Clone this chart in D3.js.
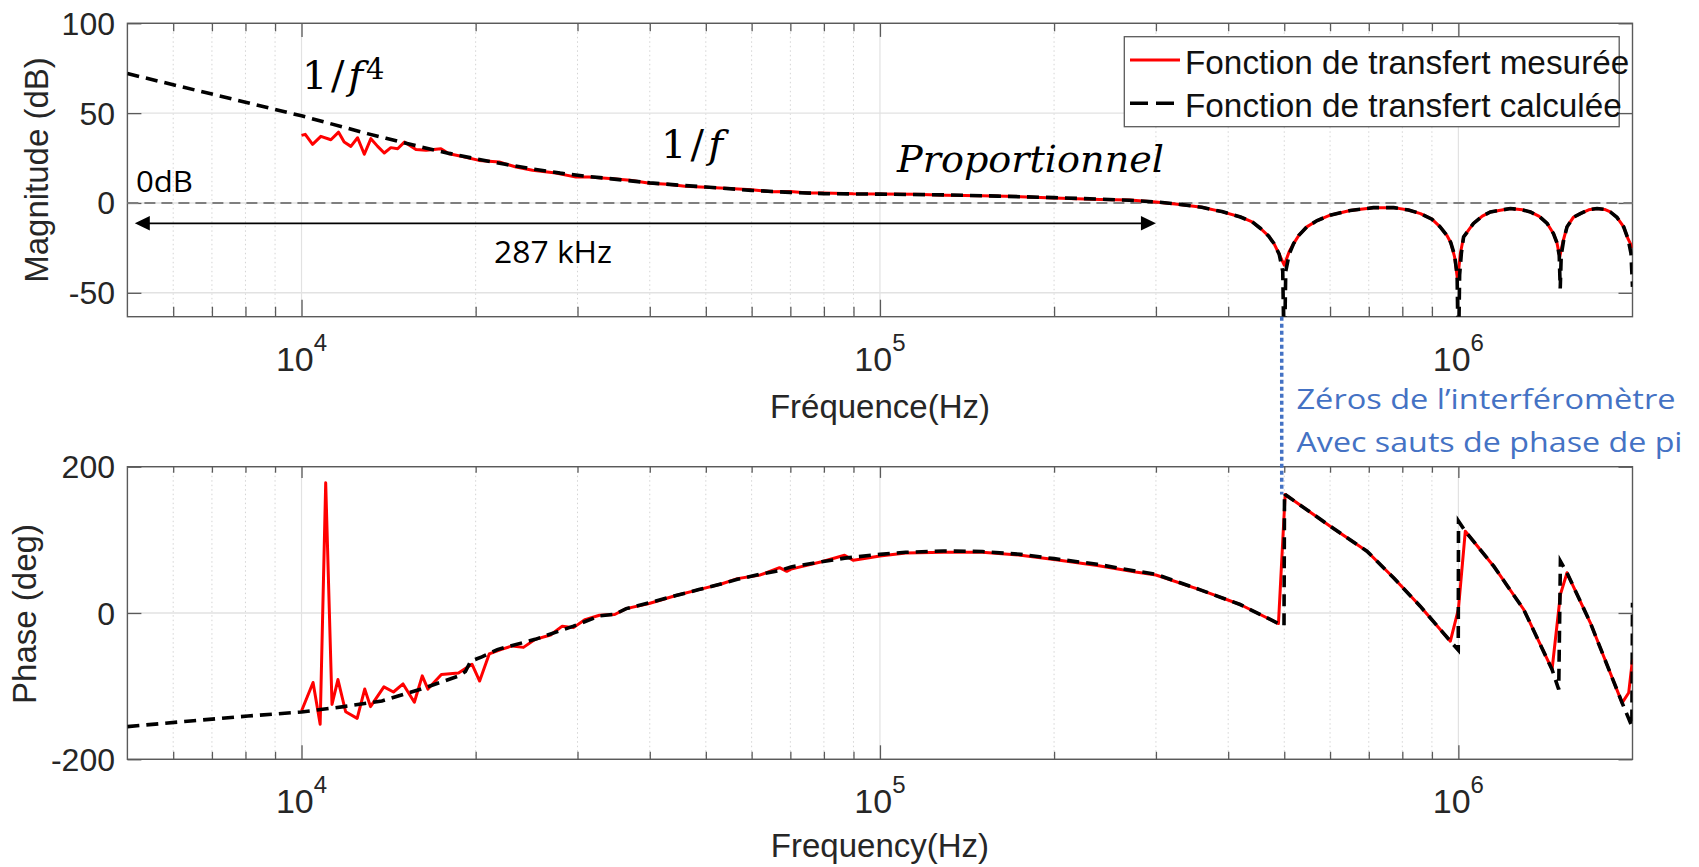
<!DOCTYPE html>
<html>
<head>
<meta charset="utf-8">
<script src="https://cdn.jsdelivr.net/npm/d3@7/dist/d3.min.js"></script>
<style>
  body { margin: 0; background: #fff; }
  svg { display: block; }
</style>
</head>
<body>
<svg id="chart" width="1699" height="867"></svg>
<script>
// ---------- Bode data (frequency in Hz) ----------
// calculated transfer function, magnitude (dB)
const magFreqCalc = [5000, 6000, 7000, 8000, 9000, 10000, 11000, 12000, 13000, 14000, 15000, 16000, 18000, 20000, 22500, 25000, 28000, 31000, 34000, 40000, 45000, 50000, 60000, 70000, 80000, 100000, 130000, 160000, 200000, 240000, 270000, 300000, 330000, 360000, 390000, 420000, 440000, 455000, 470000, 480000, 490000, 497000, 500000, 503000, 510000, 519000, 530000, 547000, 570000, 600000, 650000, 713000, 773000, 820000, 860000, 900000, 930000, 955000, 970000, 985000, 995000, 1000000, 1005000, 1012000, 1021000, 1062000, 1100000, 1136000, 1230000, 1290000, 1332000, 1380000, 1424000, 1460000, 1480000, 1494000, 1500000, 1506000, 1520000, 1541000, 1580000, 1625000, 1680000, 1737000, 1790000, 1831000, 1880000, 1931000, 1965000, 1988000, 2000000];
const magCalc = [72, 65.8, 60.6, 56.1, 52.1, 48.5, 44.9, 41.6, 38.6, 36.0, 33.6, 31.4, 27.6, 24.6, 21.5, 19.0, 16.6, 14.9, 13.6, 11.2, 9.9, 8.9, 7.0, 5.9, 5.2, 4.9, 4.5, 3.8, 3.0, 2.1, 1.5, 0.6, -0.8, -2.4, -4.8, -7.8, -10.5, -14.2, -18.5, -22.6, -28.5, -38, -90, -38, -28.5, -22.6, -18, -13.3, -9.8, -6.8, -4.2, -2.6, -2.6, -3.9, -5.9, -9.0, -13.3, -18, -22, -29, -40, -90, -40, -28, -18.9, -11.4, -7.3, -5, -3.1, -3.8, -5, -7.5, -11.4, -17, -22, -29, -47.6, -29, -21, -13.3, -8, -5.9, -3.8, -3.1, -3.6, -5, -8, -13.3, -20, -28, -46.7];

// measured transfer function, magnitude (dB)
const magFreqMeas = [10000, 10150, 10450, 10800, 11240, 11590, 11850, 12170, 12500, 12840, 13180, 13540, 13900, 14270, 14660, 15060, 15770, 16420, 17420, 17990, 18980, 20270, 21970, 23490, 25080, 27520, 29820, 31420, 34070, 37000, 40000, 43000, 46000, 50000, 55000, 60000, 65000, 70000, 75000, 80000, 90000, 100000, 115000, 130000, 150000, 175000, 200000, 240000, 270000, 300000, 330000, 360000, 390000, 420000, 440000, 455000, 470000, 480000, 490000, 500000, 510000, 519000, 530000, 547000, 570000, 600000, 650000, 713000, 773000, 820000, 860000, 900000, 930000, 955000, 970000, 985000, 997000, 1008000, 1021000, 1062000, 1100000, 1136000, 1230000, 1290000, 1332000, 1380000, 1424000, 1460000, 1480000, 1497000, 1515000, 1541000, 1580000, 1625000, 1680000, 1737000, 1790000, 1831000, 1880000, 1931000, 1965000, 2000000];
const magMeas = [37.6, 38.2, 32.6, 37.1, 35.2, 39.4, 33.9, 31.5, 36.3, 27.1, 35.8, 31.5, 27.8, 30.8, 30.2, 33.9, 29.7, 29.3, 30.2, 27.4, 25.9, 23.7, 22.8, 20.0, 18.2, 16.7, 14.4, 14.4, 13.6, 12.6, 11.0, 10.4, 9.3, 8.8, 8.0, 7.3, 6.2, 6.4, 5.5, 5.6, 5.1, 5.0, 4.8, 4.3, 4.0, 3.5, 2.8, 2.0, 1.6, 0.6, -0.8, -2.4, -4.8, -7.8, -10.5, -14.2, -18.5, -22.6, -28.5, -34.6, -27, -22.6, -18, -13.3, -9.8, -6.8, -4.2, -2.6, -2.6, -3.9, -5.9, -9.0, -13.3, -18, -22, -30, -43, -28, -18.9, -11.4, -7.3, -5, -3.1, -3.8, -5, -7.5, -11.4, -17, -22, -30, -22, -13.3, -8, -5.9, -3.8, -3.1, -3.6, -5, -8, -13.3, -20, -25];

// calculated transfer function, phase (deg)
const phaseFreqCalc = [5000, 6430, 8080, 10000, 11830, 13770, 16050, 18700, 19200, 19600, 20500, 21800, 25350, 29520, 32740, 34790, 36420, 39900, 44400, 48640, 53330, 56700, 62090, 67050, 70180, 79280, 86860, 100000, 110800, 129000, 150300, 175100, 200000, 237500, 276700, 300000, 357000, 419500, 488600, 499500, 500500, 501800, 600200, 695000, 772600, 859000, 968600, 999500, 1000500, 1028000, 1151000, 1297000, 1452000, 1491000, 1501000, 1541000, 1691000, 1919000, 1995000, 2000000];
const phaseCalc = [-155.3, -147.6, -140.8, -135.3, -128, -120.3, -104.3, -86, -80, -66, -60, -50, -36, -18, -4, -1.8, 6, 14, 24, 32, 40, 46, 53, 58, 63, 70, 75, 80.2, 83, 84.8, 84, 80.2, 74.3, 66.6, 57.4, 52.9, 32, 11.6, -14.4, -17, 164, 162, 118.7, 84.5, 48.1, 9.3, -38.5, -50.6, 125.5, 111.8, 64, 4.8, -77.2, -104.6, 70.8, 55, -13.4, -122.8, -154.7, 14];

// measured transfer function, phase (deg)
const phaseFreqMeas = [10000, 10470, 10770, 11010, 11290, 11560, 11920, 12480, 12860, 13160, 13880, 14420, 14980, 15670, 16170, 16540, 17450, 18680, 19710, 20320, 21110, 22100, 23120, 24190, 25350, 26950, 28230, 29520, 30920, 32740, 34790, 36420, 39900, 44400, 48640, 53330, 56700, 62090, 67050, 69000, 70180, 79280, 86860, 90000, 100000, 110800, 129000, 150300, 175100, 200000, 237500, 276700, 300000, 357000, 419500, 488600, 501800, 600200, 695000, 772600, 859000, 968600, 1000000, 1028000, 1151000, 1297000, 1452000, 1501000, 1541000, 1691000, 1919000, 1970000, 2000000];
const phaseMeas = [-134, -95, -152, 178, -125, -91, -135, -144, -104, -128, -101, -108, -97, -122, -86, -104, -84, -82, -70, -93, -56, -50, -45, -47, -36, -30, -18, -20, -9, -3, -2, 6, 13, 24, 32, 40, 47, 52, 62, 57, 60, 70, 79, 72, 78, 82, 83, 83, 79, 73, 65, 56, 52, 32, 11.6, -14.4, 162, 118.7, 84.5, 48.1, 9.3, -38.5, 4.8, 111.8, 64, 4.8, -77.2, 25.3, 55, -13.4, -122.8, -109, -63.6];

// axis ticks
const freqDomain = [5000, 2000000];
const decadeTicks = [1e4, 1e5, 1e6];
const magTicks = [-50, 0, 50, 100];
const magDomain = [-63.3, 100];
const phaseTicks = [-200, 0, 200];
const phaseDomain = [-200, 200];

// annotation values
const zeroDbLevel = 0;
const spanStartHz = 5150;
const spanEndHz = 300000;
const firstZeroHz = 495000;
const firstZeroPhase = 162;

// ---------- layout ----------
const svg = d3.select("#chart");
const plotLeft = 127.4, plotRight = 1632.5;
const x = d3.scaleLog().domain(freqDomain).range([plotLeft, plotRight]);
const yMag = d3.scaleLinear().domain(magDomain).range([316.7, 23.3]);
const yPh = d3.scaleLinear().domain(phaseDomain).range([759.3, 466.7]);

const axisColor = "#262626";
const boxColor = "#5a5a5a";
const sans = "'Liberation Sans', Arial, Helvetica, sans-serif";

svg.append("rect").attr("width", 1699).attr("height", 867).attr("fill", "#fff");

const minorTicks = x.ticks().filter(v => !decadeTicks.includes(v) && v > freqDomain[0] && v < freqDomain[1]);

function drawAxes(id, y, yTicks, tick) {
  const [bottom, top] = y.range();
  const g = svg.append("g");

  // clip region for the curves
  svg.append("clipPath").attr("id", id)
    .append("rect").attr("x", plotLeft).attr("y", top)
    .attr("width", plotRight - plotLeft).attr("height", bottom - top);

  // grid
  g.selectAll(".minor").data(minorTicks).join("line")
    .attr("x1", d => x(d)).attr("x2", d => x(d))
    .attr("y1", top).attr("y2", bottom)
    .attr("stroke", "#d4d4d4").attr("stroke-width", 1).attr("stroke-dasharray", "1.5,3");
  g.selectAll(".major").data(decadeTicks).join("line")
    .attr("x1", d => x(d)).attr("x2", d => x(d))
    .attr("y1", top).attr("y2", bottom)
    .attr("stroke", "#e2e2e2").attr("stroke-width", 1.2);
  g.selectAll(".hgrid").data(yTicks).join("line")
    .attr("x1", plotLeft).attr("x2", plotRight)
    .attr("y1", d => y(d)).attr("y2", d => y(d))
    .attr("stroke", "#e2e2e2").attr("stroke-width", 1.4);

  // inward ticks on all four sides
  const tickAttrs = sel => sel.call(s => s.select(".domain").remove())
    .selectAll("line").attr("stroke", boxColor).attr("stroke-width", 1.3);
  svg.append("g").attr("transform", `translate(0,${bottom})`)
    .call(d3.axisBottom(x).tickValues(minorTicks).tickSize(-tick.minor).tickFormat("")).call(tickAttrs);
  svg.append("g").attr("transform", `translate(0,${bottom})`)
    .call(d3.axisBottom(x).tickValues(decadeTicks).tickSize(-tick.major).tickFormat("")).call(tickAttrs);
  svg.append("g").attr("transform", `translate(0,${top})`)
    .call(d3.axisTop(x).tickValues(minorTicks).tickSize(-tick.minor * 0.8).tickFormat("")).call(tickAttrs);
  svg.append("g").attr("transform", `translate(0,${top})`)
    .call(d3.axisTop(x).tickValues(decadeTicks).tickSize(-tick.major * 0.8).tickFormat("")).call(tickAttrs);
  svg.append("g").attr("transform", `translate(${plotLeft},0)`)
    .call(d3.axisLeft(y).tickValues(yTicks).tickSize(-14).tickFormat("")).call(tickAttrs);
  svg.append("g").attr("transform", `translate(${plotRight},0)`)
    .call(d3.axisRight(y).tickValues(yTicks).tickSize(-14).tickFormat("")).call(tickAttrs);

  // box
  svg.append("rect").attr("x", plotLeft).attr("y", top)
    .attr("width", plotRight - plotLeft).attr("height", bottom - top)
    .attr("fill", "none").attr("stroke", boxColor).attr("stroke-width", 1.4);

  // y tick labels
  svg.append("g").selectAll("text").data(yTicks).join("text")
    .attr("x", 115).attr("y", d => y(d) + 11.5)
    .attr("text-anchor", "end").attr("font-family", sans).attr("font-size", 32)
    .attr("fill", axisColor).text(d => d);

  // x tick labels 10^n
  const lab = svg.append("g").selectAll("text").data(decadeTicks).join("text")
    .attr("x", d => x(d)).attr("y", bottom + 54)
    .attr("text-anchor", "middle").attr("font-family", sans).attr("font-size", 34)
    .attr("fill", axisColor);
  lab.append("tspan").text("10");
  lab.append("tspan").attr("font-size", 24).attr("dy", -20).text(d => Math.round(Math.log10(d)));
}

const lineOf = y => d3.line().x(d => x(d[0])).y(d => y(d[1]));

function drawCurves(clipId, y, fm, vm, fc, vc) {
  const g = svg.append("g").attr("clip-path", `url(#${clipId})`);
  g.append("path").datum(fm.map((f, i) => [f, vm[i]]))
    .attr("d", lineOf(y)).attr("fill", "none")
    .attr("stroke", "#ff0000").attr("stroke-width", 3).attr("stroke-linejoin", "round");
  g.append("path").datum(fc.map((f, i) => [f, vc[i]]))
    .attr("d", lineOf(y)).attr("fill", "none")
    .attr("stroke", "#000").attr("stroke-width", 3.6).attr("stroke-dasharray", "12,7");
  return g;
}

// ---------- magnitude panel ----------
drawAxes("clipMag", yMag, magTicks, { major: 17, minor: 10 });
// 0 dB reference line
svg.append("line")
  .attr("x1", plotLeft).attr("x2", plotRight)
  .attr("y1", yMag(zeroDbLevel)).attr("y2", yMag(zeroDbLevel))
  .attr("stroke", "#7f7f7f").attr("stroke-width", 2).attr("stroke-dasharray", "11,6");
drawCurves("clipMag", yMag, magFreqMeas, magMeas, magFreqCalc, magCalc);

// ---------- phase panel ----------
drawAxes("clipPh", yPh, phaseTicks, { major: 14, minor: 7.5 });
drawCurves("clipPh", yPh, phaseFreqMeas, phaseMeas, phaseFreqCalc, phaseCalc);

// ---------- axis titles ----------
svg.append("text").attr("transform", "translate(48,170) rotate(-90)")
  .attr("text-anchor", "middle").attr("font-family", sans).attr("font-size", 33)
  .attr("fill", axisColor).text("Magnitude (dB)");
svg.append("text").attr("transform", "translate(36,614) rotate(-90)")
  .attr("text-anchor", "middle").attr("font-family", sans).attr("font-size", 33)
  .attr("fill", axisColor).text("Phase (deg)");
svg.append("text").attr("x", x(1e5)).attr("y", 418)
  .attr("text-anchor", "middle").attr("font-family", sans).attr("font-size", 33)
  .attr("fill", axisColor).text("Fréquence(Hz)");
svg.append("text").attr("x", x(1e5)).attr("y", 857)
  .attr("text-anchor", "middle").attr("font-family", sans).attr("font-size", 33)
  .attr("fill", axisColor).text("Frequency(Hz)");

// ---------- legend ----------
const lg = svg.append("g");
lg.append("rect").attr("x", 1124.3).attr("y", 36.7).attr("width", 494.9).attr("height", 90)
  .attr("fill", "#fff").attr("stroke", "#5a5a5a").attr("stroke-width", 1.3);
lg.append("line").attr("x1", 1130).attr("x2", 1180).attr("y1", 60).attr("y2", 60)
  .attr("stroke", "#ff0000").attr("stroke-width", 3);
lg.append("line").attr("x1", 1130).attr("x2", 1182).attr("y1", 103.3).attr("y2", 103.3)
  .attr("stroke", "#000").attr("stroke-width", 3.6).attr("stroke-dasharray", "18,8");
lg.append("text").attr("x", 1185).attr("y", 73.5).attr("font-family", sans).attr("font-size", 33.3)
  .attr("fill", "#111").text("Fonction de transfert mesurée");
lg.append("text").attr("x", 1185).attr("y", 116.7).attr("font-family", sans).attr("font-size", 33.3)
  .attr("fill", "#111").text("Fonction de transfert calculée");

// ---------- annotations ----------
const serif = "'DejaVu Serif', 'Liberation Serif', serif";
const t1 = svg.append("text").attr("x", 302).attr("y", 89).attr("font-family", serif)
  .attr("font-size", 40).attr("fill", "#000").attr("textLength", 61).attr("lengthAdjust", "spacing");
t1.append("tspan").text("1/");
t1.append("tspan").attr("font-style", "italic").text("f");
svg.append("text").attr("x", 366).attr("y", 79).attr("font-family", serif)
  .attr("font-size", 29).attr("fill", "#000").text("4");

const t2 = svg.append("text").attr("x", 661).attr("y", 158.3).attr("font-family", serif)
  .attr("font-size", 40).attr("fill", "#000").attr("textLength", 62).attr("lengthAdjust", "spacing");
t2.append("tspan").text("1/");
t2.append("tspan").attr("font-style", "italic").text("f");

svg.append("text").attr("x", 897).attr("y", 171.7).attr("font-family", serif)
  .attr("font-size", 38).attr("font-style", "italic").attr("fill", "#000")
  .attr("textLength", 267).attr("lengthAdjust", "spacingAndGlyphs").text("Proportionnel");

const office = "'Open Sans', 'Noto Sans', sans-serif";
svg.append("text").attr("x", 136).attr("y", 191.5).attr("font-family", office)
  .attr("font-size", 29).attr("fill", "#000").attr("textLength", 57)
  .attr("lengthAdjust", "spacingAndGlyphs").text("0dB");

// span arrow with 287 kHz label
const arrowY = 223.3;
const ax1 = x(spanStartHz), ax2 = x(spanEndHz);
svg.append("line").attr("x1", ax1 + 10).attr("x2", ax2 - 10).attr("y1", arrowY).attr("y2", arrowY)
  .attr("stroke", "#000").attr("stroke-width", 1.8);
svg.append("path").attr("d", `M${ax1},${arrowY} l15,-7.3 v14.6 z`).attr("fill", "#000");
svg.append("path").attr("d", `M${ax2},${arrowY} l-15,-7.3 v14.6 z`).attr("fill", "#000");
svg.append("text").attr("x", 494).attr("y", 263).attr("font-family", office)
  .attr("font-size", 31).attr("fill", "#000").attr("textLength", 118)
  .attr("lengthAdjust", "spacingAndGlyphs").text("287 kHz");

// interferometer zero marker
svg.append("line")
  .attr("x1", x(firstZeroHz)).attr("x2", x(firstZeroHz))
  .attr("y1", yMag.range()[0]).attr("y2", yPh(firstZeroPhase))
  .attr("stroke", "#4472c4").attr("stroke-width", 3.5).attr("stroke-dasharray", "4,3");
svg.append("text").attr("x", 1296.5).attr("y", 409).attr("font-family", office)
  .attr("font-size", 28).attr("fill", "#4472c4").attr("textLength", 379)
  .attr("lengthAdjust", "spacingAndGlyphs").text("Zéros de l’interféromètre");
svg.append("text").attr("x", 1296.5).attr("y", 451.5).attr("font-family", office)
  .attr("font-size", 28).attr("fill", "#4472c4").attr("textLength", 386)
  .attr("lengthAdjust", "spacingAndGlyphs").text("Avec sauts de phase de pi");
</script>
</body>
</html>
